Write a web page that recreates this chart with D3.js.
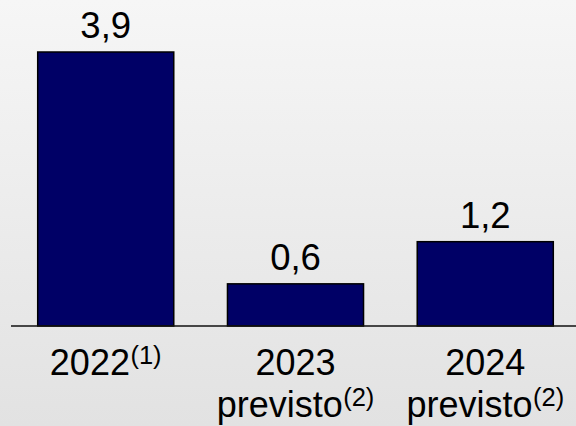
<!DOCTYPE html>
<html>
<head>
<meta charset="utf-8">
<script src="https://cdn.jsdelivr.net/npm/d3@7"></script>
<style>
html,body{margin:0;padding:0;background:#fff;}
svg{display:block;}
text{font-family:"Liberation Sans",Arial,sans-serif;fill:#000;}
</style>
</head>
<body>
<svg id="chart" width="576" height="426"></svg>
<script>
const categories = ["2022", "2023", "2024"];
const line2 = ["", "previsto", "previsto"];
const notes = ["(1)", "(2)", "(2)"];
const values = [3.9, 0.6, 1.2];
const valueLabels = ["3,9", "0,6", "1,2"];

const W = 576, H = 426;
const svg = d3.select("#chart");

const defs = svg.append("defs");
const grad = defs.append("linearGradient").attr("id","bg").attr("x1",0).attr("y1",0).attr("x2",0).attr("y2",1);
grad.append("stop").attr("offset","0%").attr("stop-color","#f6f6f6");
grad.append("stop").attr("offset","100%").attr("stop-color","#e2e2e2");
svg.append("rect").attr("width",W).attr("height",H).attr("fill","url(#bg)");

const x = d3.scaleBand().domain(categories).range([-16, 607]).paddingInner(0.283).paddingOuter(0.283);
const y = d3.scaleLinear().domain([0, 3.9]).range([326, 52]);

const data = categories.map((c,i)=>({c, v:values[i], lab:valueLabels[i], l2:line2[i], note:notes[i]}));

svg.selectAll("rect.bar").data(data).join("rect")
  .attr("class","bar")
  .attr("x", d=>x(d.c))
  .attr("y", d=>y(d.v))
  .attr("width", x.bandwidth())
  .attr("height", d=>y(0)-y(d.v))
  .attr("fill","#000066")
  .attr("stroke","#000")
  .attr("stroke-width",1.5);

svg.append("line").attr("x1",11).attr("x2",W).attr("y1",y(0)).attr("y2",y(0))
  .attr("stroke","#111").attr("stroke-width",1.3);

svg.selectAll("text.val").data(data).join("text")
  .attr("class","val")
  .attr("x", d=>x(d.c)+x.bandwidth()/2)
  .attr("y", d=>y(d.v)-14)
  .attr("text-anchor","middle")
  .attr("font-size",36.5)
  .text(d=>d.lab);

data.forEach((d,i)=>{
  const cx = x(d.c)+x.bandwidth()/2;
  const lines = d.l2 ? [d.c, d.l2] : [d.c];
  lines.forEach((t,j)=>{
    const withNote = j===lines.length-1;
    const tx = svg.append("text")
      .attr("x", cx)
      .attr("y", 375 + j*42)
      .attr("text-anchor","middle")
      .attr("font-size",36);
    tx.append("tspan").text(t);
    if (withNote) {
      tx.append("tspan").attr("font-size",25.5).attr("dx",0.5).attr("dy",-11).text(d.note);
    }
  });
});
</script>
</body>
</html>
